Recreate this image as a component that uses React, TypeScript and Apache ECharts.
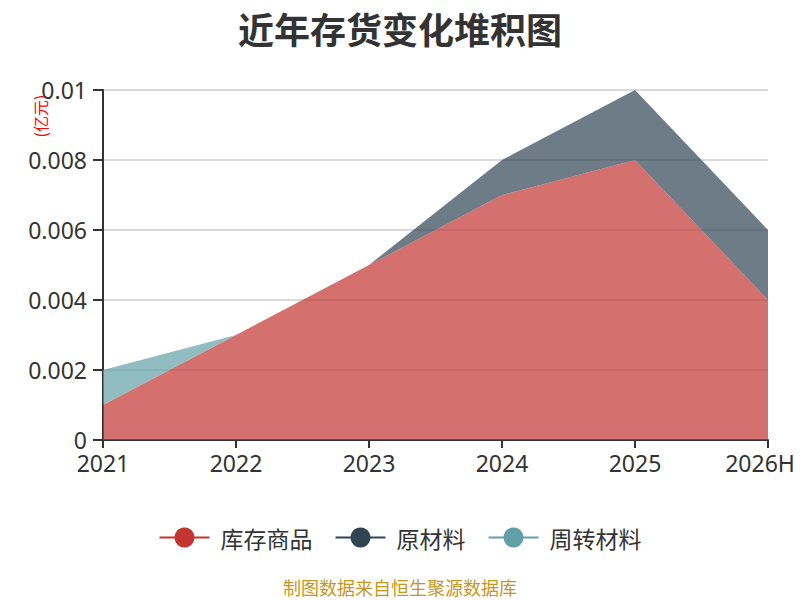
import React, { useEffect, useRef } from "react";
import * as echarts from "echarts";

const categories = ["2021", "2022", "2023", "2024", "2025", "2026H"];
const seriesNames = ["库存商品", "原材料", "周转材料"];
const goodsValues = [0.001, 0.003, 0.005, 0.007, 0.008, 0.004];
const rawValues = [0, 0, 0, 0.001, 0.002, 0.002];
const turnoverValues = [0.001, 0, 0, 0, 0, 0];
const colors = ["#c23531", "#2f4554", "#61a0a8"];

const FONT = "'Noto Sans', 'Noto Sans CJK SC', sans-serif";
const CJK = "'Noto Sans CJK SC', sans-serif";

export default function App() {
  const ref = useRef<HTMLDivElement>(null);
  useEffect(() => {
    if (!ref.current) return;
    const chart = echarts.init(ref.current, null, { renderer: "svg" });
    const data = [goodsValues, rawValues, turnoverValues];
    const lastIdx = categories.length - 1;
    chart.setOption({
      animation: false,
      color: colors,
      textStyle: { fontFamily: FONT },
      title: {
        text: "近年存货变化堆积图",
        left: "center",
        top: 5,
        textStyle: { fontSize: 36, fontWeight: "bold", color: "#333", fontFamily: CJK },
      },
      grid: { left: 103, right: 32, top: 90, bottom: 160, outerBoundsMode: "none", containLabel: false },
      legend: {
        top: 521,
        left: "center",
        itemWidth: 50,
        itemHeight: 25,
        itemGap: 22,
        textStyle: { fontSize: 23, color: "#333", fontFamily: CJK, padding: [0, 0, 0, 6] },
        lineStyle: { width: 2 },
        data: seriesNames,
      },
      xAxis: {
        type: "category",
        data: categories,
        boundaryGap: false,
        axisLine: { lineStyle: { color: "#333", width: 2 } },
        axisTick: { interval: 0, lineStyle: { color: "#333", width: 2 }, length: 8 },
        axisLabel: {
          interval: 0,
          hideOverlap: false,
          fontSize: 23,
          color: "#333",
          margin: 11,
          fontFamily: FONT,
          formatter: (v: string, idx: number) => (idx === lastIdx ? "{last|" + v + "}" : v),
          rich: {
            last: { fontSize: 23, color: "#333", fontFamily: FONT, padding: [0, 16, 0, 0] },
          },
        },
      },
      yAxis: {
        type: "value",
        min: 0,
        max: 0.01,
        interval: 0.002,
        axisLine: { show: true, lineStyle: { color: "#333", width: 2 } },
        axisTick: { show: true, lineStyle: { color: "#333", width: 2 }, length: 10 },
        axisLabel: { fontSize: 23, color: "#333", margin: 16, fontFamily: FONT },
        splitLine: { lineStyle: { color: "#ccc", width: 1.5 } },
      },
      graphic: [
        {
          type: "group",
          x: 40,
          y: 116,
          rotation: Math.PI / 2,
          children: [
            {
              type: "text",
              x: 0,
              y: 0,
              style: {
                text: "(亿元)",
                fill: "#ff0000",
                fontSize: 16,
                fontFamily: CJK,
                align: "center",
                verticalAlign: "middle",
              },
            },
          ],
        },
        {
          type: "text",
          left: "center",
          top: 578,
          style: {
            text: "制图数据来自恒生聚源数据库",
            fill: "#c8961e",
            fontSize: 18,
            fontFamily: CJK,
          },
        },
      ],
      series: seriesNames.map((name, i) => ({
        name,
        type: "line",
        stack: "total",
        data: data[i],
        symbol: "circle",
        symbolSize: 8,
        showSymbol: false,
        lineStyle: { width: 0 },
        areaStyle: { opacity: 0.7 },
      })),
    });
    return () => chart.dispose();
  }, []);
  return (
    <div
      ref={ref}
      style={{ position: "absolute", left: 0, top: 0, width: 800, height: 600 }}
    />
  );
}
